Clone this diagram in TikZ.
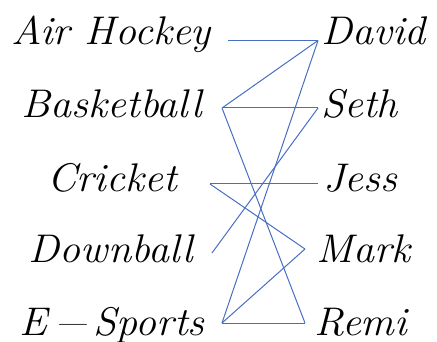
\documentclass[tikz,border=0pt]{standalone}
\usepackage{graphicx}
\definecolor{linkblue}{RGB}{72,110,195}
\newcommand{\wide}[1]{\scalebox{1.05}[1]{#1}}
\begin{document}
\begin{tikzpicture}[x=1pt, y=-1pt,
  sport/.style={anchor=base, inner sep=0pt, font=\fontsize{40}{42}\selectfont\itshape},
  person/.style={anchor=base west, inner sep=0pt, font=\fontsize{40}{42}\selectfont\itshape},
  link/.style={draw=linkblue, line width=1pt}
]
\useasboundingbox (0,0) rectangle (437,342);
% sports
\node[sport] (air) at (111,45) {\wide{Air Hockey}};
\node[sport] (basket) at (112,118) {\wide{Basketball}};
\node[sport] (cricket) at (112,192) {\wide{Cricket}};
\node[sport] (down) at (111,262) {\wide{Downball}};
\node[sport] (esports) at (112,335) {\wide{E\hspace{0.14em}\scalebox{1.5}[1]{\textendash}\hspace{0.22em}Sports}};
% people
\node[person] (david) at (321,45) {\wide{David}};
\node[person] (seth) at (321,118) {\wide{Seth}};
\node[person] (jess) at (323,192) {\wide{Jess}};
\node[person] (mark) at (316,262) {\wide{Mark}};
\node[person] (remi) at (314,335) {\wide{Remi}};
% line ends
\coordinate (airE) at (228,40.5);
\coordinate (basketE) at (222,108);
\coordinate (cricketE) at (210,184);
\coordinate (downE) at (212,253);
\coordinate (esportsE) at (222,323);
\coordinate (davidW) at (318,40.5);
\coordinate (sethW) at (318,108);
\coordinate (jessW) at (318,184);
\coordinate (markW) at (305,249);
\coordinate (remiW) at (305,323);
% links
\draw[link] (airE) -- (davidW);
\draw[link] (basketE) -- (davidW);
\draw[link] (basketE) -- (sethW);
\draw[link] (basketE) -- (remiW);
\draw[link] (cricketE) -- (jessW);
\draw[link] (cricketE) -- (markW);
\draw[link] (downE) -- (sethW);
\draw[link] (esportsE) -- (davidW);
\draw[link] (esportsE) -- (markW);
\draw[link] (esportsE) -- (remiW);
\end{tikzpicture}
\end{document}
